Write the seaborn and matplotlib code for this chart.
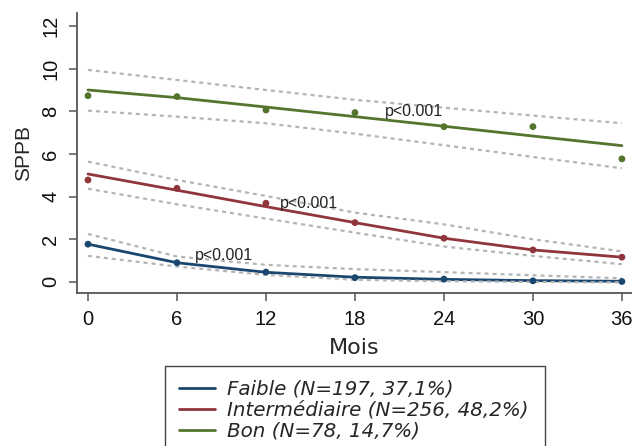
import numpy as np
import pandas as pd
import matplotlib
matplotlib.use("Agg")
import matplotlib.pyplot as plt
from matplotlib.lines import Line2D
import seaborn as sns

# Donnees (SPPB par mois de suivi)
mois = [0, 6, 12, 18, 24, 30, 36]
groupes = ["Faible", "Intermédiaire", "Bon"]
legend_labels = ["Faible (N=197, 37,1%)",
                 "Intermédiaire (N=256, 48,2%)",
                 "Bon (N=78, 14,7%)"]

faible_obs = [1.77, 0.90, 0.46, 0.20, 0.13, 0.05, 0.02]
faible_fit = [1.77, 0.90, 0.45, 0.22, 0.12, 0.06, 0.03]
faible_lo = [1.22, 0.72, 0.33, 0.10, 0.03, 0.00, -0.02]
faible_hi = [2.25, 1.19, 0.80, 0.60, 0.46, 0.31, 0.17]

inter_obs = [4.78, 4.39, 3.69, 2.78, 2.05, 1.50, 1.16]
inter_fit = [5.06, 4.30, 3.53, 2.78, 2.05, 1.50, 1.16]
inter_lo = [4.37, 3.64, 2.97, 2.31, 1.66, 1.22, 0.83]
inter_hi = [5.64, 4.78, 4.03, 3.25, 2.70, 2.00, 1.43]

bon_obs = [8.73, 8.69, 8.06, 7.94, 7.28, 7.28, 5.77]
bon_fit = [9.00, 8.64, 8.20, 7.75, 7.30, 6.84, 6.39]
bon_lo = [8.03, 7.75, 7.44, 6.95, 6.41, 5.86, 5.33]
bon_hi = [9.94, 9.47, 9.00, 8.54, 8.17, 7.80, 7.44]

# position (mois, SPPB) des etiquettes p
p_text = ["p<0.001", "p<0.001", "p<0.001"]
p_x = [7.2, 12.95, 20.0]
p_y = [1.22, 3.69, 7.98]

couleurs = {"Faible": "#1a476f", "Intermédiaire": "#90353b", "Bon": "#55752f"}

obs = {"Faible": faible_obs, "Intermédiaire": inter_obs, "Bon": bon_obs}
fit = {"Faible": faible_fit, "Intermédiaire": inter_fit, "Bon": bon_fit}
lo = {"Faible": faible_lo, "Intermédiaire": inter_lo, "Bon": bon_lo}
hi = {"Faible": faible_hi, "Intermédiaire": inter_hi, "Bon": bon_hi}

df = pd.concat([
    pd.DataFrame({"mois": mois, "groupe": g, "obs": obs[g], "fit": fit[g],
                  "lo": lo[g], "hi": hi[g]})
    for g in groupes
], ignore_index=True)

sns.set_style("white")
plt.rcParams["font.family"] = ["Liberation Sans", "DejaVu Sans"]

fig = plt.figure(figsize=(6.32, 4.46), dpi=100)
ax = fig.add_axes([77 / 632, 1 - 293 / 446, (632 - 77) / 632, (293 - 13) / 446])

sns.lineplot(data=df, x="mois", y="fit", hue="groupe", palette=couleurs,
             lw=2.0, legend=False, ax=ax, zorder=2)

# intervalles de confiance en pointilles gris
for g in groupes:
    sub = df[df["groupe"] == g]
    for col in ["lo", "hi"]:
        sns.lineplot(data=sub, x="mois", y=col, color="#b4b4b4", lw=1.6,
                     linestyle=(0, (1.8, 1.8)), ax=ax, zorder=3)

sns.scatterplot(data=df, x="mois", y="obs", hue="groupe", palette=couleurs,
                s=24, edgecolor="none", legend=False, ax=ax, zorder=4)

for t, x, y in zip(p_text, p_x, p_y):
    ax.text(x, y, t, fontsize=11.5, color="#222222", va="center", ha="left",
            zorder=5)

ax.set_xlim(-0.74, 36.68)
ax.set_ylim(-0.52, 12.61)
ax.set_xticks(mois)
ax.set_yticks([0, 2, 4, 6, 8, 10, 12])
ax.set_xlabel("Mois", fontsize=16, family="DejaVu Sans", labelpad=7)
ax.set_ylabel("SPPB", fontsize=15, labelpad=6)

sns.despine(ax=ax)
for side in ["left", "bottom"]:
    ax.spines[side].set_color("#555555")
    ax.spines[side].set_linewidth(1.3)
ax.tick_params(axis="both", which="major", direction="out", length=6,
               width=1.1, color="#555555", labelsize=14.5, pad=6,
               labelcolor="#111111", left=True, bottom=True)
for lab in ax.get_yticklabels():
    lab.set_rotation(90)
    lab.set_va("center")

handles = [Line2D([0], [0], color=couleurs[g], lw=2.0) for g in groupes]
leg = fig.legend(handles, legend_labels, loc="upper left",
                 bbox_to_anchor=(165 / 632, 0, 380 / 632, 1 - 366 / 446),
                 mode="expand", borderaxespad=0, frameon=True, fancybox=False,
                 edgecolor="#444444", framealpha=1,
                 prop={"family": "DejaVu Sans", "style": "italic", "size": 14.3},
                 handlelength=1.8, handletextpad=0.6, labelspacing=0.1,
                 borderpad=0.7)
leg.get_frame().set_linewidth(1.0)

fig.savefig("out.png", dpi=100)
